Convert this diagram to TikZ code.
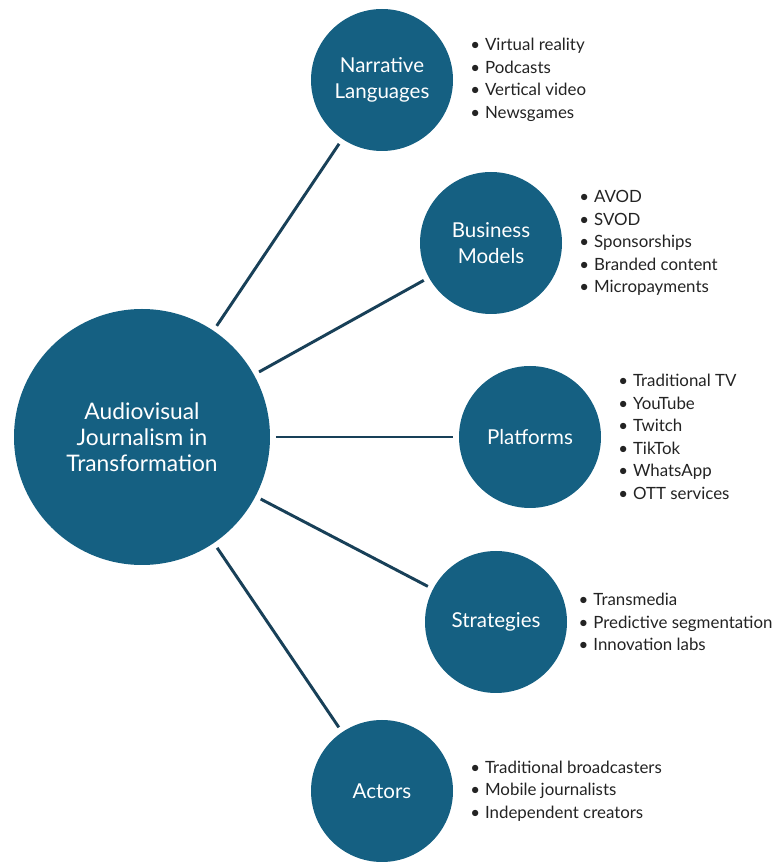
\documentclass[tikz,border=0pt]{standalone}
\usepackage{fontspec}
\setmainfont{Lato}
\usetikzlibrary{positioning}
\definecolor{avblue}{RGB}{21, 96, 130}
\definecolor{avline}{RGB}{24, 64, 88}
\definecolor{avtext}{RGB}{35, 35, 35}
\newcommand{\bul}{\textbullet\hspace{3.5pt}}

\begin{document}
\begin{tikzpicture}[
  every node/.style={inner sep=0pt, align=center},
  hub/.style={circle, fill=avblue, minimum size=6.4cm, text=white, font=\fontsize{16.2}{18.5}\selectfont},
  topic/.style={circle, fill=avblue, minimum size=3.55cm, text=white, font=\fontsize{14.6}{18}\selectfont},
  items/.style={align=left, text=avtext, font=\fontsize{12}{16}\selectfont, right=0.42cm of #1},
  link/.style={line width=2.1pt, avline, shorten <=4pt, shorten >=4pt}
]
  \useasboundingbox (0,0) rectangle (19.45,21.55);

  % Central theme
  \node[hub] (hub) at (3.55, 10.625) {Audiovisual\\Journalism in\\Transformation};

  % Dimensions around the hub
  \node[topic] (narr) at (9.55, 19.55)    {Narrative\\Languages};
  \node[topic] (biz) at (12.275, 15.475)  {Business\\Models};
  \node[topic] (plat) at (13.25, 10.625)  {Platforms};
  \node[topic] (strat) at (12.4, 6.0)     {Strategies};
  \node[topic] (act) at (9.55, 1.775)     {Actors};

  \draw[link] (hub) -- (narr);
  \draw[link] (hub) -- (biz);
  \draw[link] (hub) -- (plat);
  \draw[link] (hub) -- (strat);
  \draw[link] (hub) -- (act);

  % Examples next to each dimension
  \node[items=narr] (narrlist) {\bul Virtual reality\\\bul Podcasts\\\bul Vertical video\\\bul Newsgames};
  \node[items=biz] (bizlist) {\bul AVOD\\\bul SVOD\\\bul Sponsorships\\\bul Branded content\\\bul Micropayments};
  \node[items=plat] (platlist) {\bul Traditional TV\\\bul YouTube\\\bul Twitch\\\bul TikTok\\\bul WhatsApp\\\bul OTT services};
  \node[items=strat, xshift=-4pt] (stratlist) {\bul Transmedia\\\bul Predictive segmentation\\\bul Innovation labs};
  \node[items=act] (actlist) {\bul Traditional broadcasters\\\bul Mobile journalists\\\bul Independent creators};

\end{tikzpicture}
\end{document}
